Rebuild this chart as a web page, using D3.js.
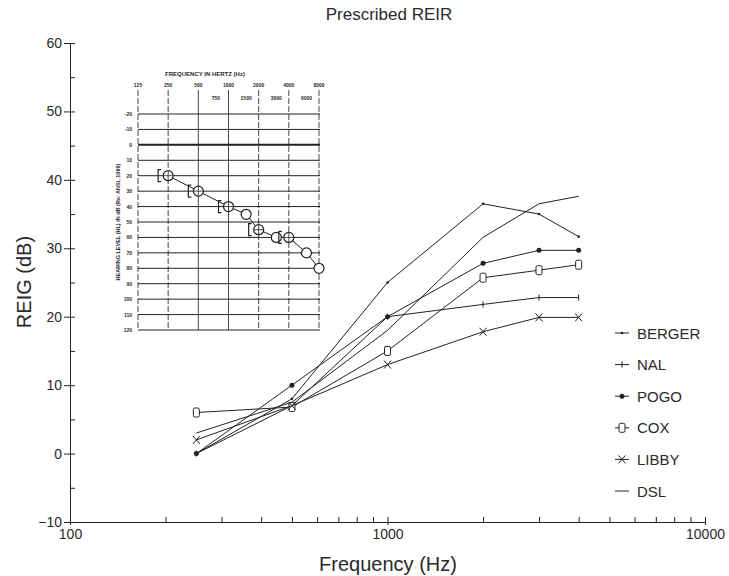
<!DOCTYPE html>
<html>
<head>
<meta charset="utf-8">
<script src="https://cdn.jsdelivr.net/npm/d3@7"></script>
<style>
  body { margin: 0; background: #fff; }
  text { font-family: "Liberation Sans", Arial, sans-serif; fill: #2a2a2a; }
</style>
</head>
<body>
<div id="chart"></div>
<script>
// main chart data (REIG in dB at each frequency)
var freqs = [250, 500, 1000, 2000, 3000, 4000];
var berger = [0, 8, 25, 36.5, 35, 31.7];
var nal = [0, 7, 20, 21.8, 22.8, 22.8];
var pogo = [0, 10, 20, 27.8, 29.7, 29.7];
var cox = [6, 6.8, 15, 25.7, 26.8, 27.6];
var libby = [2, 7, 13, 17.8, 19.9, 19.9];
var dsl = [3, 7.5, 18, 31.6, 36.5, 37.6];
var seriesNames = ["BERGER", "NAL", "POGO", "COX", "LIBBY", "DSL"];
var seriesMarks = ["dot", "plus", "fill", "box", "cross", "none"];

var yMajor = [-10, 0, 10, 20, 30, 40, 50, 60];
var yMinor = [-10, -5, 0, 5, 10, 15, 20, 25, 30, 35, 40, 45, 50, 55, 60];
var xMajor = [100, 1000, 10000];
var xMinor = [200, 300, 400, 500, 600, 700, 800, 900, 2000, 3000, 4000, 5000, 6000, 7000, 8000, 9000];

// inset audiogram data
var audFreqRow1 = ["125", "250", "500", "1000", "2000", "4000", "8000"];
var audFreqRow2 = ["750", "1500", "3000", "6000"];
var audHLTicks = [-20, -10, 0, 10, 20, 30, 40, 50, 60, 70, 80, 90, 100, 110, 120];
var audFreqs = [250, 500, 1000, 1500, 2000, 3000, 4000, 6000, 8000];
var audHL = [20, 30, 40, 45, 55, 60, 60, 70, 80];
var boneFreqs = [250, 500, 1000, 2000, 4000];
var boneHL = [20, 30, 40, 55, 60];

var W = 729, H = 576;
var svg = d3.select("#chart").append("svg")
    .attr("width", W).attr("height", H);

var x = d3.scaleLog().domain([100, 10000]).range([70, 705]);
var y = d3.scaleLinear().domain([-10, 60]).range([522, 43]);

// axes
var yLeft = svg.append("g")
    .attr("transform", "translate(70,0)")
    .call(d3.axisLeft(y).tickValues(yMajor).tickSize(6).tickPadding(2));
yLeft.selectAll("text").style("font-size", "14px");
svg.append("g")
    .attr("transform", "translate(70,0)")
    .call(d3.axisRight(y).tickValues(yMinor).tickSize(5).tickFormat(""))
    .select(".domain").remove();

var xBottom = svg.append("g")
    .attr("transform", "translate(0,522)")
    .call(d3.axisBottom(x).tickValues(xMajor).tickSize(3).tickPadding(4).tickFormat(d3.format("d")));
xBottom.selectAll("text").style("font-size", "14px");
svg.append("g")
    .attr("transform", "translate(0,522)")
    .call(d3.axisTop(x).tickValues(xMinor.concat(xMajor)).tickSize(5).tickFormat(""))
    .select(".domain").remove();
svg.selectAll(".domain, .tick line").attr("stroke", "#222");

svg.append("text").attr("x", 389).attr("y", 20)
    .attr("text-anchor", "middle").style("font-size", "17px")
    .text("Prescribed REIR");
svg.append("text").attr("x", 388).attr("y", 571)
    .attr("text-anchor", "middle").style("font-size", "20px")
    .text("Frequency (Hz)");
svg.append("text")
    .attr("transform", "translate(31,282) rotate(-90)")
    .attr("text-anchor", "middle").style("font-size", "20px")
    .text("REIG (dB)");

function marker(g, type, cx, cy) {
    if (type == "dot") {
        g.append("circle").attr("cx", cx).attr("cy", cy).attr("r", 1.3).attr("fill", "#222");
    } else if (type == "plus") {
        g.append("line").attr("x1", cx).attr("x2", cx).attr("y1", cy - 3).attr("y2", cy + 3)
            .attr("stroke", "#222");
    } else if (type == "fill") {
        g.append("circle").attr("cx", cx).attr("cy", cy).attr("r", 2.5).attr("fill", "#222");
    } else if (type == "box") {
        g.append("rect").attr("x", cx - 3).attr("y", cy - 4.5).attr("width", 6).attr("height", 9)
            .attr("rx", 1.5).attr("fill", "#fff").attr("stroke", "#222");
    } else if (type == "cross") {
        g.append("path").attr("d", "M" + (cx - 3.5) + "," + (cy - 4) + "L" + (cx + 3.5) + "," + (cy + 4) +
            "M" + (cx + 3.5) + "," + (cy - 4) + "L" + (cx - 3.5) + "," + (cy + 4))
            .attr("stroke", "#222").attr("fill", "none");
    }
}

var allSeries = [berger, nal, pogo, cox, libby, dsl];
var line = d3.line()
    .x(function (d) { return x(d.f); })
    .y(function (d) { return y(d.v); });

allSeries.forEach(function (vals, i) {
    var pts = freqs.map(function (f, j) { return { f: f, v: vals[j] }; });
    var g = svg.append("g");
    g.append("path").datum(pts).attr("d", line)
        .attr("fill", "none").attr("stroke", "#222").attr("stroke-width", 1);
    pts.forEach(function (p) { marker(g, seriesMarks[i], x(p.f), y(p.v)); });
});

// legend
seriesNames.forEach(function (name, i) {
    var ly = 333 + i * 31.6;
    var g = svg.append("g");
    g.append("line").attr("x1", 615).attr("x2", 629).attr("y1", ly).attr("y2", ly)
        .attr("stroke", "#222");
    marker(g, seriesMarks[i], 622, ly);
    g.append("text").attr("x", 637).attr("y", ly + 5.5)
        .style("font-size", "15px").text(name);
});

// inset audiogram
var ax = d3.scaleLog().base(2).domain([125, 8000]).range([138, 319]);
var ay = d3.scaleLinear().domain([-20, 120]).range([114, 330]);
var inset = svg.append("g");

inset.append("text").attr("x", 205).attr("y", 76)
    .attr("text-anchor", "middle").style("font-size", "6px").style("font-weight", "bold")
    .text("FREQUENCY IN HERTZ (Hz)");
audFreqRow1.forEach(function (t) {
    inset.append("text").attr("x", ax(+t)).attr("y", 87)
        .attr("text-anchor", "middle").style("font-size", "5px").style("font-weight", "bold").text(t);
    inset.append("line").attr("x1", ax(+t)).attr("x2", ax(+t)).attr("y1", 90).attr("y2", 330)
        .attr("stroke", "#333").attr("stroke-width", 0.9)
        .attr("stroke-dasharray", (t == "500" || t == "1000") ? null : "6,2");
});
audFreqRow2.forEach(function (t) {
    inset.append("text").attr("x", ax(+t)).attr("y", 100)
        .attr("text-anchor", "middle").style("font-size", "5px").style("font-weight", "bold").text(t);
});
audHLTicks.forEach(function (v) {
    inset.append("line").attr("x1", 138).attr("x2", 320).attr("y1", ay(v)).attr("y2", ay(v))
        .attr("stroke", "#222").attr("stroke-width", v == 0 ? 2 : 1);
    inset.append("text").attr("x", 132).attr("y", ay(v) + 2)
        .attr("text-anchor", "end").style("font-size", "5px").style("font-weight", "bold").text(v);
});
inset.append("text")
    .attr("transform", "translate(120,222) rotate(-90)")
    .attr("text-anchor", "middle").style("font-size", "5.5px").style("font-weight", "bold")
    .text("HEARING LEVEL (HL) IN dB (Re: ANSI, 1969)");

var audPts = audFreqs.map(function (f, i) { return [ax(f), ay(audHL[i])]; });
inset.append("path").attr("d", d3.line()(audPts))
    .attr("fill", "none").attr("stroke", "#222");
audPts.forEach(function (p) {
    inset.append("circle").attr("cx", p[0]).attr("cy", p[1]).attr("r", 5)
        .attr("fill", "#fff").attr("stroke", "#222").attr("stroke-width", 1.2);
});
boneFreqs.forEach(function (f, i) {
    var bx = ax(f) - 10, by = ay(boneHL[i]);
    inset.append("path")
        .attr("d", "M" + (bx + 3) + "," + (by - 6) + "H" + bx + "V" + (by + 6) + "H" + (bx + 3))
        .attr("fill", "none").attr("stroke", "#222").attr("stroke-width", 1.2);
    inset.append("line").attr("x1", ax(f) - 5).attr("x2", ax(f) + 5).attr("y1", by).attr("y2", by)
        .attr("stroke", "#222").attr("stroke-width", 0.8);
    inset.append("line").attr("x1", ax(f)).attr("x2", ax(f)).attr("y1", by - 5).attr("y2", by + 5)
        .attr("stroke", "#222").attr("stroke-width", 0.8);
});
</script>
</body>
</html>
